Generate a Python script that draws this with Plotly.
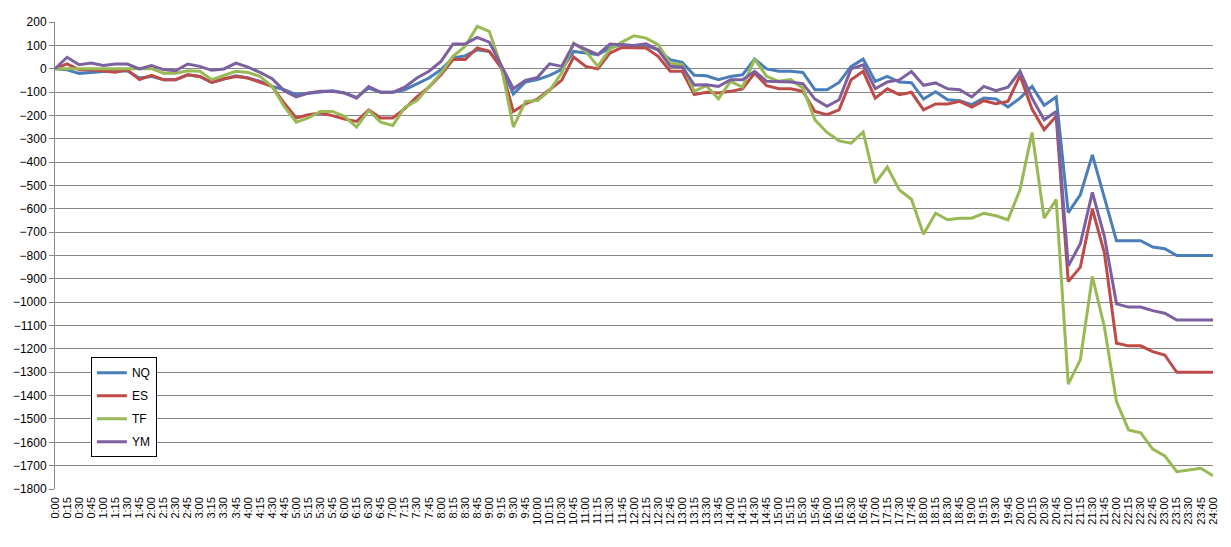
import plotly.graph_objects as go

times = [f"{h}:{m:02d}" for h in range(24) for m in (0, 15, 30, 45)] + ["24:00"]

NQ = [0, -5, -20, -15, -12, -10, -10, -40, -33, -47, -47, -26, -33, -59, -43, -30, -40,
      -54, -76, -90, -111, -104, -100, -94, -104, -123, -83, -101, -101, -90, -64, -40, -4,
      46, 55, 81, 74, 10, -109, -57, -47, -29, -4, 74, 67, 60, 89, 103, 96, 99, 81, 39, 27,
      -28, -30, -47, -33, -26, 41, -1, -11, -11, -16, -90, -90, -59, 10, 41, -54, -33, -57,
      -60, -130, -99, -133, -137, -154, -126, -130, -164, -126, -76, -157, -121, -616, -540,
      -369, -554, -737, -737, -737, -764, -771, -800, -800, -800, -800]
ES = [0, 21, -5, -5, -10, -15, -5, -47, -28, -47, -47, -26, -33, -59, -43, -33, -40,
      -57, -76, -147, -211, -197, -190, -201, -216, -226, -176, -211, -211, -171, -121, -79, -26,
      39, 39, 89, 74, 3, -183, -151, -130, -90, -50, 50, 10, -1, 67, 91, 91, 89, 53, -11, -11,
      -111, -101, -104, -97, -87, -19, -73, -86, -86, -97, -183, -197, -176, -47, -11, -126, -86, -111,
      -101, -176, -151, -151, -140, -164, -137, -150, -140, -30, -173, -261, -204, -912, -850,
      -601, -790, -1176, -1187, -1187, -1212, -1226, -1300, -1300, -1300, -1300]
TF = [0, 0, 0, 0, 0, 0, 0, 0, 0, -19, -19, -9, -11, -47, -29, -11, -16,
      -33, -76, -161, -229, -211, -183, -183, -204, -250, -179, -229, -243, -166, -136, -79, -19,
      53, 96, 181, 160, 10, -250, -140, -136, -94, -19, 110, 74, 10, 84, 114, 141, 131, 103, 24, 17,
      -97, -73, -129, -54, -79, 41, -33, -54, -47, -83, -219, -273, -309, -319, -271, -490, -421, -519,
      -559, -709, -619, -647, -640, -640, -619, -630, -647, -519, -273, -640, -561, -1351, -1247,
      -890, -1107, -1426, -1547, -1559, -1629, -1658, -1726, -1719, -1711, -1743]
YM = [0, 49, 17, 24, 14, 20, 20, -1, 13, -4, -9, 20, 10, -7, -1, 24, 7,
      -16, -43, -94, -121, -104, -97, -97, -104, -126, -76, -101, -101, -79, -40, -11, 31,
      106, 106, 134, 114, 17, -86, -50, -37, 21, 10, 106, 84, 60, 106, 103, 99, 107, 81, 10, 7,
      -70, -69, -76, -47, -47, -11, -54, -57, -57, -64, -130, -161, -133, -1, 17, -86, -57, -48,
      -12, -71, -61, -86, -90, -121, -76, -94, -79, -11, -126, -219, -183, -845, -750,
      -530, -719, -1007, -1021, -1021, -1036, -1047, -1076, -1076, -1076, -1076]

series = [("NQ", NQ, "#4A7EBB"), ("ES", ES, "#BE4B48"), ("TF", TF, "#98B954"), ("YM", YM, "#7D60A0")]

fig = go.Figure()
for name, vals, color in series:
    fig.add_trace(go.Scatter(x=times, y=vals, mode="lines", name=name, legendgroup=name,
                             line=dict(color=color, width=3)))

grid = "#878787"
fig.update_layout(
    width=1223, height=539,
    margin=dict(l=47, r=18, t=14, b=58, autoexpand=False),
    paper_bgcolor="white", plot_bgcolor="white",
    font=dict(family="Liberation Sans, Arial, sans-serif", color="black"),
    showlegend=True,
    legend=dict(x=0.031, y=0.282, xanchor="left", yanchor="top",
                bordercolor="black", borderwidth=1, bgcolor="white",
                font=dict(size=12), itemwidth=30, tracegroupgap=4),
    xaxis=dict(type="category", range=[0, 96], tickmode="array", tickvals=times,
               tickangle=-90, tickfont=dict(size=11), showgrid=False, showline=False,
               ticks="", zeroline=False, ticklabelstandoff=5, automargin=False),
    yaxis=dict(range=[-1800, 200], dtick=100, tick0=0, showgrid=True, gridcolor=grid,
               gridwidth=1, showline=True, linecolor=grid, linewidth=1, ticks="outside",
               ticklen=5, tickcolor=grid, tickfont=dict(size=12), zeroline=False,
               automargin=False),
    xaxis2=dict(overlaying="x", anchor="free", position=0.9, range=[0, 96], type="linear",
                tickmode="linear", tick0=0, dtick=1, ticks="outside", ticklen=3,
                tickcolor=grid, showline=True, linecolor=grid, showticklabels=False,
                showgrid=False, zeroline=False),
    xaxis3=dict(overlaying="x", anchor="free", position=0.9, range=[0, 96], type="linear",
                tickmode="linear", tick0=0, dtick=1, ticks="inside", ticklen=4,
                tickcolor=grid, showline=False, showticklabels=False,
                showgrid=False, zeroline=False),
)

fig.write_html("out.html")
